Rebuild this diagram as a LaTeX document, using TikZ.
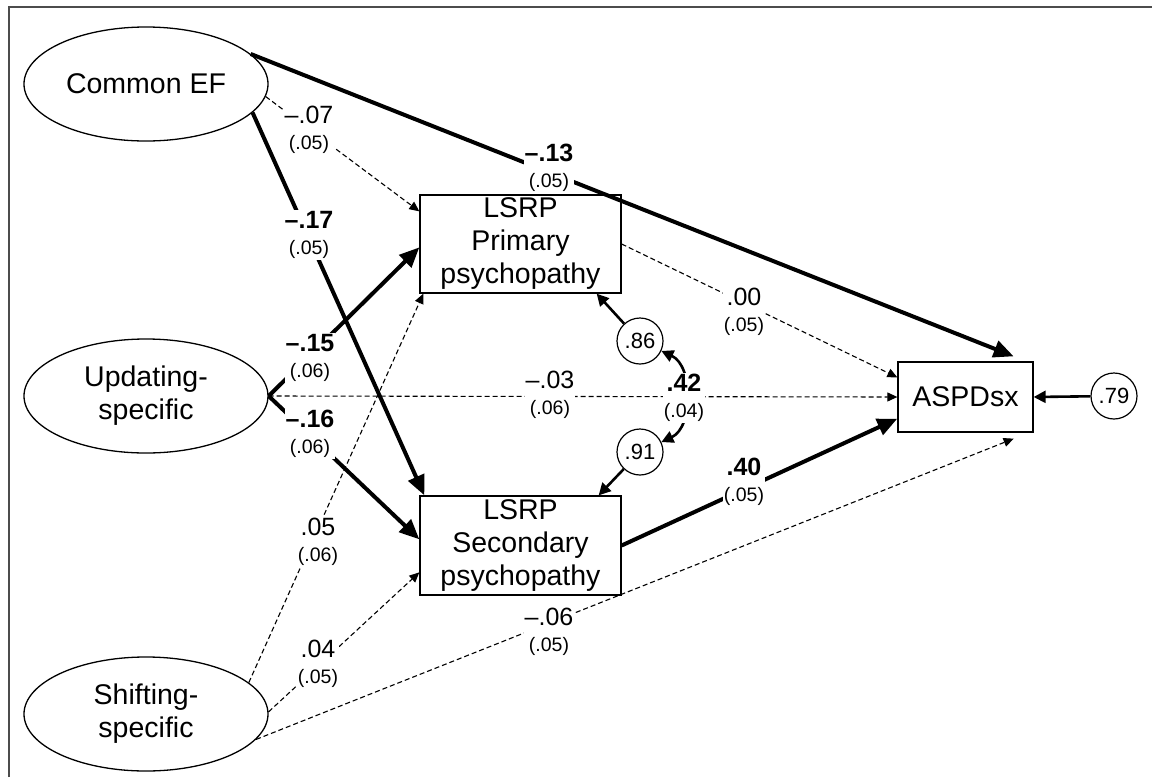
\documentclass[tikz,border=0pt]{standalone}
\usepackage{fontspec}
\setmainfont{Liberation Sans}
\usetikzlibrary{arrows.meta,shapes.geometric,calc}
\begin{document}
\begin{tikzpicture}[x=1pt,y=-1pt,
  latent/.style={draw,ellipse,line width=1.3pt,minimum width=244pt,minimum height=114pt,inner sep=0pt,align=center,font=\fontsize{28.5}{33}\selectfont},
  obs/.style={draw,rectangle,line width=1.3pt,inner sep=0pt,align=center,font=\fontsize{28.5}{33}\selectfont},
  resid/.style={draw,circle,line width=1.2pt,minimum size=46pt,inner sep=0pt,font=\fontsize{22}{24}\selectfont},
  lbl/.style={fill=white,inner sep=1pt,align=center,font=\fontsize{25}{26}\selectfont},
  strong/.style={line width=4pt,-{Triangle[length=20pt,width=17pt]}},
  weak/.style={line width=1.1pt,dash pattern=on 5pt off 3pt,-{Triangle[length=10pt,width=9pt]}},
  medium/.style={line width=2.6pt,-{Triangle[length=12pt,width=12pt]}},
  cov/.style={line width=2.6pt,{Triangle[length=12pt,width=12pt]}-{Triangle[length=12pt,width=12pt]}},
]
\newcommand\se[1]{{\fontsize{19.5}{26}\selectfont #1}}
\useasboundingbox (0,0) rectangle (1152,777);
\draw[line width=1.2pt,black!70] (9,777) -- (9,7) -- (1152,7);

% nodes
\node[latent] (cef) at (146,84) {Common EF};
\node[latent] (upd) at (146,396) {Updating-\\specific};
\node[latent] (shf) at (146,714) {Shifting-\\specific};
\node[obs,minimum width=201pt,minimum height=98pt] (prim) at (520.5,244) {LSRP\\Primary\\psychopathy};
\node[obs,minimum width=201pt,minimum height=99pt] (sec) at (520.5,545.5) {LSRP\\Secondary\\psychopathy};
\node[obs,minimum width=135pt,minimum height=70pt] (aspd) at (965.5,397) {ASPDsx};
\node[resid] (c86) at (640,341) {.86};
\node[resid] (c91) at (640,452) {.91};
\node[resid] (c79) at (1114,396) {.79};

\coordinate (aspdTop) at ($(aspd.north east)+(-20,-5)$);
\coordinate (aspdBot) at ($(aspd.south east)+(-20,6)$);

% connectors
\draw[strong] (cef.16) -- (aspdTop);
\draw[weak] (cef.-6) -- ($(prim.north west)+(0,17)$);
\draw[strong] (cef.-15) -- ($(sec.north west)+(5,0)$);
\draw[strong] (upd.east) -- ($(prim.north west)+(0,53)$);
\draw[strong] (upd.east) -- ($(sec.north west)+(0,44)$);
\draw[weak] (upd.east) -- (aspd.west);
\draw[weak] (shf.17) -- ($(prim.south west)+(4,0)$);
\draw[weak] (shf.1) -- ($(sec.north west)+(0,77)$);
\draw[weak] (shf.-13) -- (aspdBot);
\draw[weak] (prim.east) -- ($(aspd.north west)+(0,16)$);
\draw[strong] (sec.east) -- ($(aspd.south west)+(0,-14)$);
\draw[medium] (c86) -- ($(prim.south east)+(-25,0)$);
\draw[medium] (c91) -- ($(sec.north east)+(-23,0)$);
\draw[medium] (c79) -- (aspd.east);
\draw[cov] (c86) to[out=-25,in=25] (c91);

% labels
\node[lbl] (l13) at (549,168) {\textbf{–.13}\\\se{(.05)}};
\node[lbl] (l07) at (309,130) {–.07\\\se{(.05)}};
\node[lbl] (l17) at (309,235) {\textbf{–.17}\\\se{(.05)}};
\node[lbl] (l15) at (310,358) {\textbf{–.15}\\\se{(.06)}};
\node[lbl] (l16) at (310,434) {\textbf{–.16}\\\se{(.06)}};
\node[lbl] (l03) at (550,395) {–.03\\\se{(.06)}};
\node[lbl] (l42) at (684,398) {\textbf{.42}\\\se{(.04)}};
\node[lbl] (l00) at (744,312) {.00\\\se{(.05)}};
\node[lbl] (l40) at (744,482) {\textbf{.40}\\\se{(.05)}};
\node[lbl] (l05) at (318,542) {.05\\\se{(.06)}};
\node[lbl] (l04) at (318,664) {.04\\\se{(.05)}};
\node[lbl] (l06) at (549,632) {–.06\\\se{(.05)}};
\end{tikzpicture}
\end{document}
